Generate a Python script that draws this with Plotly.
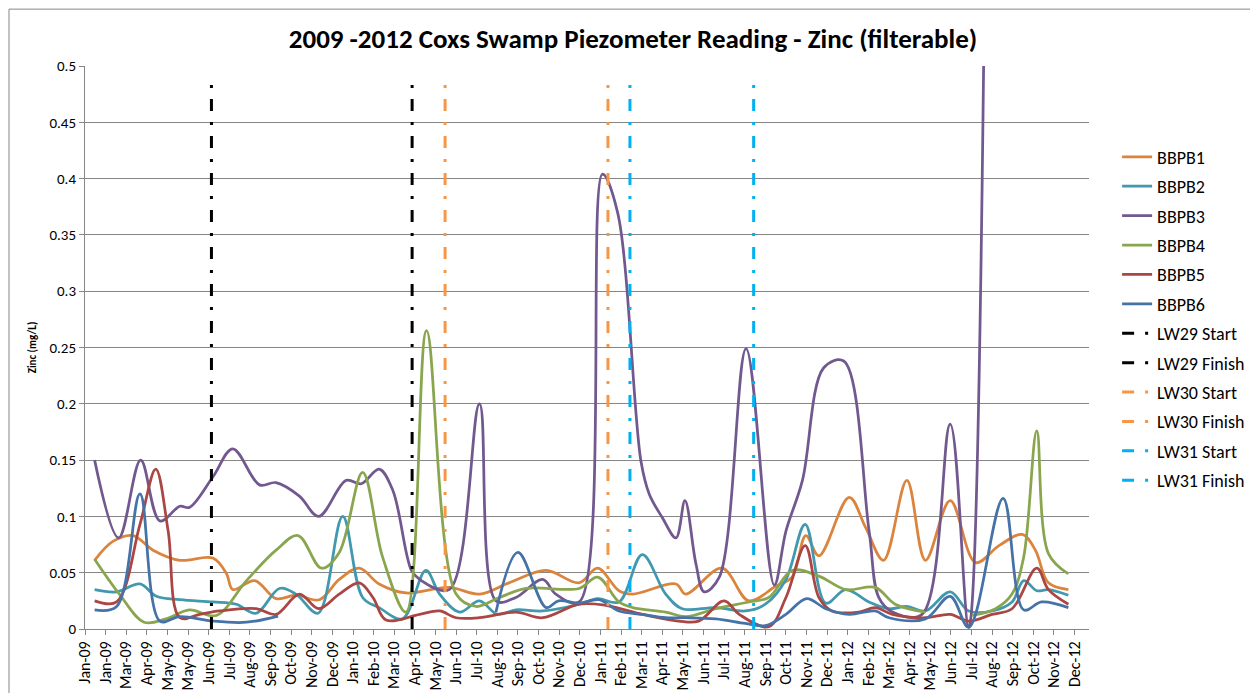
import pandas as pd
import plotly.graph_objects as go

# piezometer readings, zinc (filterable) mg/L
bbpb1_dates = ["2009-01-15", "2009-02-11", "2009-03-12", "2009-04-10", "2009-05-19", "2009-07-06",
               "2009-07-26", "2009-08-04", "2009-09-05", "2009-10-06", "2009-11-04", "2009-12-08",
               "2010-01-06", "2010-02-04", "2010-03-05", "2010-04-13", "2010-06-15", "2010-07-29",
               "2010-09-10", "2010-11-03", "2010-12-21", "2011-01-17", "2011-02-17", "2011-03-09",
               "2011-05-11", "2011-05-25", "2011-07-17", "2011-08-25", "2011-10-03", "2011-10-27",
               "2011-11-16", "2011-12-05", "2012-01-18", "2012-02-11", "2012-03-08", "2012-04-11",
               "2012-05-08", "2012-06-13", "2012-07-20", "2012-08-23", "2012-09-26", "2012-10-15",
               "2012-11-03", "2012-12-02"]
bbpb1_values = [0.061, 0.078, 0.083, 0.070, 0.061, 0.063, 0.049, 0.035, 0.043, 0.027, 0.030, 0.026,
                0.044, 0.054, 0.040, 0.032, 0.037, 0.031, 0.041, 0.052, 0.041, 0.054, 0.034, 0.031,
                0.040, 0.031, 0.054, 0.025, 0.038, 0.046, 0.083, 0.065, 0.117, 0.090, 0.061, 0.132,
                0.061, 0.114, 0.059, 0.074, 0.084, 0.070, 0.041, 0.035]

bbpb2_dates = ["2009-01-15", "2009-02-16", "2009-03-22", "2009-04-15", "2009-05-19", "2009-07-06",
               "2009-08-09", "2009-09-07", "2009-10-11", "2009-11-04", "2009-12-06", "2010-01-11",
               "2010-02-09", "2010-03-05", "2010-04-08", "2010-05-12", "2010-06-01", "2010-06-30",
               "2010-07-29", "2010-08-24", "2010-09-20", "2010-10-29", "2010-12-21", "2011-01-17",
               "2011-02-17", "2011-03-23", "2011-04-26", "2011-05-20", "2011-07-08", "2011-08-20",
               "2011-09-18", "2011-10-18", "2011-11-15", "2011-12-15", "2012-01-13", "2012-02-16",
               "2012-03-16", "2012-04-11", "2012-05-08", "2012-06-13", "2012-07-10", "2012-08-13",
               "2012-09-11", "2012-09-28", "2012-10-17", "2012-11-03", "2012-12-02"]
bbpb2_values = [0.035, 0.033, 0.040, 0.029, 0.026, 0.024, 0.022, 0.014, 0.036, 0.031, 0.014, 0.100,
                0.028, 0.019, 0.009, 0.052, 0.031, 0.015, 0.025, 0.013, 0.017, 0.016, 0.022, 0.027,
                0.024, 0.066, 0.031, 0.018, 0.019, 0.016, 0.022, 0.044, 0.093, 0.023, 0.035, 0.024,
                0.018, 0.020, 0.016, 0.033, 0.016, 0.016, 0.024, 0.043, 0.034, 0.035, 0.030]

bbpb3_dates = ["2009-01-15", "2009-02-19", "2009-03-23", "2009-04-20", "2009-05-19", "2009-06-02",
               "2009-07-06", "2009-08-04", "2009-09-12", "2009-10-06", "2009-11-09", "2009-12-07",
               "2010-01-16", "2010-02-07", "2010-03-05", "2010-03-25", "2010-04-21", "2010-05-03",
               "2010-06-15", "2010-07-29", "2010-08-22", "2010-09-20", "2010-10-29", "2010-11-17",
               "2010-12-21", "2011-01-24", "2011-02-15", "2011-03-21", "2011-04-02", "2011-04-21",
               "2011-05-11", "2011-05-24", "2011-06-09", "2011-06-21", "2011-07-13", "2011-08-21",
               "2011-10-01", "2011-10-18", "2011-11-11", "2011-12-12", "2012-01-10", "2012-02-16",
               "2012-03-01", "2012-03-21", "2012-05-03", "2012-06-13", "2012-07-10", "2012-08-04"]
bbpb3_values = [0.150, 0.081, 0.150, 0.096, 0.109, 0.108, 0.135, 0.160, 0.128, 0.130, 0.118, 0.100,
                0.132, 0.129, 0.142, 0.123, 0.052, 0.044, 0.035, 0.200, 0.025, 0.028, 0.044, 0.031,
                0.024, 0.404, 0.370, 0.149, 0.120, 0.099, 0.081, 0.114, 0.058, 0.033, 0.046, 0.249,
                0.039, 0.087, 0.132, 0.232, 0.238, 0.087, 0.028, 0.015, 0.013, 0.182, 0.0015, 0.70]

bbpb4_dates = ["2009-01-15", "2009-02-20", "2009-03-28", "2009-04-29", "2009-06-02", "2009-07-11",
               "2009-08-24", "2009-10-06", "2009-11-07", "2009-12-11", "2010-01-06", "2010-02-09",
               "2010-03-10", "2010-04-13", "2010-05-13", "2010-06-25", "2010-07-24", "2010-08-27",
               "2010-10-05", "2010-12-21", "2011-01-17", "2011-02-17", "2011-03-09", "2011-04-26",
               "2011-05-25", "2011-07-08", "2011-08-25", "2011-09-23", "2011-10-27", "2011-12-05",
               "2012-01-13", "2012-02-25", "2012-03-25", "2012-05-08", "2012-06-13", "2012-07-15",
               "2012-08-18", "2012-09-11", "2012-09-28", "2012-10-17", "2012-11-03", "2012-12-02"]
bbpb4_values = [0.062, 0.031, 0.006, 0.009, 0.017, 0.012, 0.043, 0.070, 0.083, 0.054, 0.068, 0.139,
                0.064, 0.015, 0.265, 0.031, 0.020, 0.028, 0.036, 0.036, 0.046, 0.024, 0.019, 0.015,
                0.011, 0.018, 0.024, 0.028, 0.052, 0.047, 0.035, 0.037, 0.022, 0.015, None, 0.012,
                0.018, 0.031, 0.064, 0.176, 0.067, 0.049]

bbpb5_dates = ["2009-01-15", "2009-02-16", "2009-03-22", "2009-04-14", "2009-05-02", "2009-05-19",
               "2009-06-17", "2009-07-16", "2009-09-07", "2009-10-06", "2009-11-09", "2009-12-07",
               "2010-01-06", "2010-02-04", "2010-02-24", "2010-03-15", "2010-05-03", "2010-06-01",
               "2010-06-25", "2010-07-29", "2010-09-20", "2010-10-29", "2010-12-21", "2011-01-29",
               "2011-03-23", "2011-05-15", "2011-06-13", "2011-07-20", "2011-08-11", "2011-09-23",
               "2011-10-18", "2011-11-15", "2011-12-05", "2011-12-24", "2012-02-01", "2012-02-25",
               "2012-03-21", "2012-05-08", "2012-06-13", "2012-07-10", "2012-08-13", "2012-09-11",
               "2012-10-17", "2012-11-03", "2012-12-02"]
bbpb5_values = [0.025, 0.024, 0.093, 0.142, 0.087, 0.010, 0.013, 0.016, 0.018, 0.013, 0.031, 0.018,
                0.031, 0.041, 0.028, 0.008, 0.013, 0.016, 0.010, 0.010, 0.015, 0.010, 0.022, 0.021,
                0.013, 0.007, 0.007, 0.025, 0.013, 0.002, 0.028, 0.074, 0.028, 0.016, 0.015, 0.019,
                0.013, 0.010, 0.013, 0.007, 0.013, 0.018, 0.054, 0.035, 0.022]

bbpb6_dates = ["2009-01-15", "2009-02-16", "2009-03-22", "2009-04-20", "2009-05-19", "2009-07-06",
               "2009-08-24", "2009-10-09", "2010-01-15", "2010-08-22", "2010-09-23", "2010-11-03",
               "2010-11-21", "2010-12-21", "2011-01-19", "2011-02-17", "2011-03-23", "2011-04-26",
               "2011-05-25", "2011-07-08", "2011-08-20", "2011-09-18", "2011-10-18", "2011-11-17",
               "2011-12-15", "2012-01-18", "2012-02-25", "2012-03-16", "2012-05-08", "2012-06-13",
               "2012-07-10", "2012-08-29", "2012-09-28", "2012-10-24", "2012-12-02"]
bbpb6_values = [0.017, 0.020, 0.120, 0.007, 0.011, 0.007, 0.006, 0.0115, None, 0.015, 0.068, 0.019,
                0.025, 0.023, 0.026, 0.016, 0.013, 0.010, 0.010, 0.009, 0.005, 0.003, 0.013, 0.027,
                0.018, 0.013, 0.016, 0.010, 0.009, 0.029, 0.0015, 0.116, 0.017, 0.024, 0.019]

# longwall start / finish markers
lw_names = ["LW29 Start", "LW29 Finish", "LW30 Start", "LW30 Finish", "LW31 Start", "LW31 Finish"]
lw_dates = ["2009-07-04", "2010-04-22", "2010-06-09", "2011-02-01", "2011-03-05", "2011-09-01"]
lw_top = 0.49

tick_labels = ["Jan-09", "Jan-09", "Mar-09", "Apr-09", "May-09", "May-09", "Jun-09", "Jul-09",
               "Aug-09", "Sep-09", "Oct-09", "Nov-09", "Dec-09", "Jan-10", "Feb-10", "Mar-10",
               "Apr-10", "May-10", "Jun-10", "Jul-10", "Aug-10", "Sep-10", "Oct-10", "Nov-10",
               "Dec-10", "Jan-11", "Feb-11", "Mar-11", "Apr-11", "May-11", "Jun-11", "Jul-11",
               "Aug-11", "Sep-11", "Oct-11", "Nov-11", "Dec-11", "Jan-12", "Feb-12", "Mar-12",
               "Apr-12", "May-12", "Jun-12", "Jul-12", "Aug-12", "Sep-12", "Oct-12", "Nov-12",
               "Dec-12"]
tick_dates = pd.date_range("2009-01-01", periods=len(tick_labels), freq="30D")

series = [
    ("BBPB1", bbpb1_dates, bbpb1_values, "#DB843D"),
    ("BBPB2", bbpb2_dates, bbpb2_values, "#4198AF"),
    ("BBPB3", bbpb3_dates, bbpb3_values, "#71588F"),
    ("BBPB4", bbpb4_dates, bbpb4_values, "#89A54E"),
    ("BBPB5", bbpb5_dates, bbpb5_values, "#AA4643"),
    ("BBPB6", bbpb6_dates, bbpb6_values, "#4572A7"),
]
lw_colors = ["#000000", "#000000", "#F79646", "#F79646", "#00B0F0", "#00B0F0"]

FONT = "Carlito, Lato, 'Open Sans', sans-serif"

fig = go.Figure()
for name, dates, values, color in series:
    fig.add_trace(go.Scatter(x=dates, y=values, mode="lines", name=name,
                             line=dict(color=color, width=2.75, shape="spline"),
                             legendgroup=name))

for name, date, color in zip(lw_names, lw_dates, lw_colors):
    fig.add_trace(go.Scatter(x=[date, date], y=[0, lw_top], mode="lines", name=name,
                             line=dict(color=color, width=3, dash="12px,11px,3px,11px"),
                             legendgroup=name))

# page body adds 8px, so the figure is 1250x685
fig.update_layout(
    width=1250, height=685,
    template="none",
    paper_bgcolor="white", plot_bgcolor="white",
    font=dict(family=FONT, size=14, color="#000000"),
    margin=dict(l=77, r=169, t=58, b=64, autoexpand=False),
    title=dict(text="2009 -2012 Coxs Swamp Piezometer Reading - Zinc (filterable)",
               x=0.5, xanchor="center", y=0.955, yanchor="middle",
               font=dict(family=FONT, size=27, weight="bold")),
    legend=dict(x=1.028, y=0.871, xanchor="left", yanchor="top",
                font=dict(family=FONT, size=18), tracegroupgap=3,
                traceorder="grouped", bgcolor="rgba(0,0,0,0)"),
    showlegend=True,
)

fig.update_xaxes(type="date", range=["2009-01-01", "2013-01-01"],
                 tickvals=tick_dates, ticktext=tick_labels, tickangle=-90,
                 showgrid=False, showline=True, linecolor="#868686", linewidth=1,
                 ticks="outside", ticklen=5, tickcolor="#868686", automargin=False,
                 tickfont=dict(size=16), zeroline=False)
fig.update_yaxes(range=[0, 0.5], dtick=0.05, showgrid=True, gridcolor="#868686", gridwidth=1,
                 showline=True, linecolor="#868686", linewidth=1,
                 ticks="outside", ticklen=5, tickcolor="#868686", automargin=False,
                 tickfont=dict(size=15), zeroline=False,
                 title=dict(text="Zinc (mg/L)", standoff=10,
                            font=dict(family=FONT, size=11, weight="bold")))

# chart frame
fig.add_shape(type="rect", xref="paper", yref="paper", x0=-0.0757, x1=1.165, y0=-0.3, y1=1.101,
              line=dict(color="#868686", width=1), fillcolor="rgba(0,0,0,0)", layer="above")

fig.write_html("out.html")
